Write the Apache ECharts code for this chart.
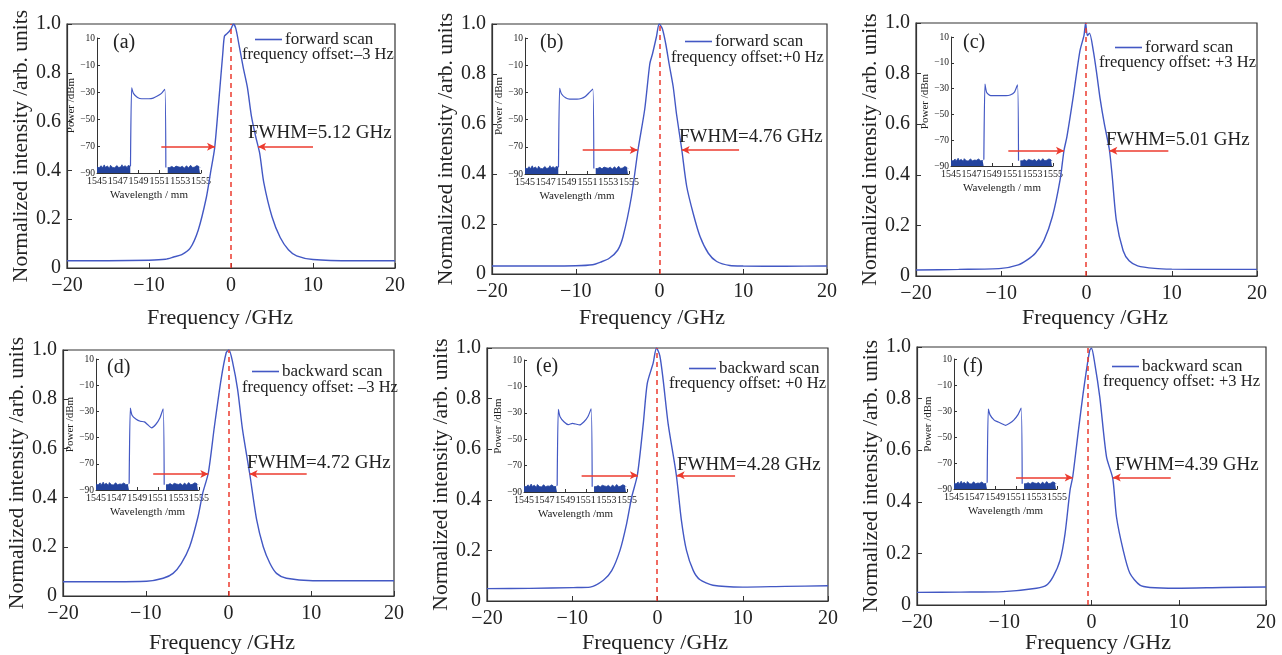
<!DOCTYPE html>
<html><head><meta charset="utf-8">
<script src="https://cdn.jsdelivr.net/npm/echarts@6/dist/echarts.min.js"></script>
<style>html,body{margin:0;padding:0;background:#fff}#c{width:1282px;height:655px}</style>
</head><body><div id="c"></div><script>
// ---------- main spectra (frequency GHz, normalized intensity) ----------
const aFreq = [-20,-15,-10,-8,-7,-6,-5,-4,-3,-2.5,-2,-1.5,-1,-0.8,-0.5,-0.2,0,0.3,0.6,1,1.5,2,2.5,3,3.5,4,5,6,7,8,10,15,20];
const aInt  = [0.03,0.03,0.032,0.036,0.045,0.055,0.08,0.155,0.29,0.39,0.49,0.68,0.88,0.95,0.96,0.97,0.98,1.0,0.98,0.91,0.82,0.74,0.62,0.54,0.47,0.35,0.21,0.125,0.075,0.05,0.035,0.03,0.03];
const bFreq = [-20,-15,-10,-8,-7,-6,-5,-4.35,-3.35,-2.55,-1.76,-1.16,-0.84,-0.36,-0.04,0.35,0.75,1.15,1.63,2.03,2.65,3.25,4.04,4.84,5.83,6.83,8.4,10,15,20];
const bInt  = [0.032,0.032,0.033,0.037,0.048,0.063,0.095,0.15,0.31,0.5,0.66,0.84,0.88,0.95,1.0,0.98,0.92,0.84,0.75,0.64,0.5,0.35,0.24,0.15,0.083,0.05,0.034,0.032,0.031,0.032];
const cFreq = [-20,-15,-10,-8,-7,-6,-5,-4,-3.1,-2.64,-2.3,-1.55,-0.77,-0.3,-0.1,0.1,0.35,0.8,1.2,1.6,2.1,2.68,3.0,3.5,4.3,5,6,8,10,15,20];
const cInt  = [0.024,0.026,0.03,0.044,0.063,0.09,0.14,0.235,0.38,0.496,0.55,0.71,0.89,0.95,1.0,0.95,0.96,0.89,0.8,0.7,0.6,0.5,0.4,0.22,0.1,0.06,0.04,0.03,0.027,0.026,0.026];
const dFreq = [-20,-15,-9.9,-7.9,-6.7,-5.7,-4.7,-3.7,-3.1,-2.44,-1.7,-0.9,-0.27,0.05,0.5,1.1,1.7,2.55,3.4,4.2,5.0,5.8,7.0,10.2,15,20];
const dInt  = [0.058,0.058,0.06,0.072,0.092,0.133,0.2,0.32,0.42,0.5,0.69,0.88,0.99,1.0,0.95,0.84,0.675,0.5,0.31,0.2,0.133,0.092,0.072,0.062,0.062,0.062];
const eFreq = [-20,-15,-9.88,-7.9,-6.35,-5.37,-4.4,-3.62,-3.03,-2.35,-1.67,-1.2,-0.51,-0.12,0.27,0.66,1.25,2.2,2.8,3.4,4.2,4.95,6.5,10,15,20];
const eInt  = [0.049,0.05,0.053,0.055,0.082,0.12,0.2,0.306,0.41,0.5,0.7,0.86,0.94,1.0,0.97,0.875,0.7,0.5,0.32,0.2,0.12,0.085,0.062,0.055,0.058,0.06];
const fFreq = [-20,-15,-10.1,-6.3,-5.15,-4.4,-3.6,-3.03,-2.46,-2.15,-1.5,-0.96,-0.58,-0.2,0,0.38,0.95,1.72,2.44,2.86,3.63,4.4,5.55,6.7,9.75,15,20];
const fInt  = [0.049,0.05,0.052,0.065,0.077,0.11,0.174,0.277,0.445,0.497,0.677,0.82,0.91,0.987,0.995,0.935,0.806,0.574,0.49,0.342,0.213,0.123,0.077,0.068,0.065,0.068,0.07];

// ---------- inset optical spectra (wavelength nm, power dBm) ----------
const noiseLeftWl = [1545.0,1545.1,1545.2,1545.3,1545.4,1545.5,1545.6,1545.7,1545.8,1545.9,1546.0,1546.1,1546.2,1546.3,1546.4,1546.5,1546.6,1546.7,1546.8,1546.9,1547.0,1547.1,1547.2,1547.3,1547.4,1547.5,1547.6,1547.7,1547.8,1547.9,1548.0,1548.1,1548.2];
const noiseLeft   = [-85.5,-84.2,-86.1,-85.0,-84.6,-86.3,-85.2,-84.0,-85.8,-86.0,-84.9,-85.5,-86.4,-84.3,-85.1,-85.9,-84.7,-86.2,-85.3,-84.5,-85.7,-86.0,-84.8,-85.4,-83.9,-85.6,-86.1,-84.6,-85.2,-85.9,-84.4,-85.8,-85.0];
const noiseRightWl = [1551.8,1551.9,1552.0,1552.1,1552.2,1552.3,1552.4,1552.5,1552.6,1552.7,1552.8,1552.9,1553.0,1553.1,1553.2,1553.3,1553.4,1553.5,1553.6,1553.7,1553.8,1553.9,1554.0,1554.1,1554.2,1554.3,1554.4,1554.5,1554.6,1554.7,1554.8,1554.9];
const noiseRight   = [-86.0,-84.8,-85.9,-86.5,-85.1,-84.4,-86.2,-85.6,-84.9,-86.3,-85.4,-84.2,-85.8,-86.1,-85.0,-84.6,-86.4,-85.3,-84.7,-85.9,-86.2,-85.1,-84.3,-85.7,-86.0,-84.9,-85.5,-86.3,-84.5,-85.8,-85.2,-86.0];
const platWl = [1548.22,1548.33,1548.5,1548.9,1549.3,1549.7,1550.0,1550.4,1550.8,1551.2,1551.52,1551.62];
const aPlat = [-85,-27,-31,-34,-35,-35,-35,-34.5,-33,-31,-28,-86];
const bPlat = [-85,-27,-31,-34,-35,-35,-35,-34.5,-33,-30,-27.5,-86];
const cPlat = [-85,-26.5,-33,-35.5,-35.5,-35.5,-35.5,-35.5,-35,-33,-27,-86];
const dPlat = [-85,-27.5,-33,-36,-37.5,-38,-40,-42.5,-40,-35,-28,-86];
const ePlat = [-85,-27.3,-33,-37,-39,-38,-38.5,-39.2,-37,-33,-27,-86];
const fPlat = [-85,-28.5,-33,-37,-38.5,-40,-41,-39.5,-37,-33,-27.7,-86];

// ---------- annotations (data coordinates) ----------
const peakCenters = [0, 0, -0.1, 0, -0.1, -0.4];
const arrowY      = [0.497, 0.496, 0.495, 0.496, 0.497, 0.494];
const arrowLeft   = [[-8.5,-1.95],[-9.17,-2.6],[-9.17,-2.64],[-9.1,-2.44],[-8.9,-2.3],[-8.65,-2.15]];
const arrowRight  = [[10,3.3],[9.5,2.65],[9.6,2.68],[9.45,2.55],[9.1,2.25],[9.08,2.44]];
const panelTags   = ['(a)','(b)','(c)','(d)','(e)','(f)'];
const scanNames   = ['forward scan','forward scan','forward scan','backward scan','backward scan','backward scan'];
const offsetTexts = ['frequency offset:\u20133 Hz','frequency offset:+0 Hz','frequency offset: +3 Hz','frequency offset: \u20133 Hz','frequency offset: +0 Hz','frequency offset: +3 Hz'];
const fwhmTexts   = ['FWHM=5.12 GHz','FWHM=4.76 GHz','FWHM=5.01 GHz','FWHM=4.72 GHz','FWHM=4.28 GHz','FWHM=4.39 GHz'];
const wlNames     = ['Wavelength / mm','Wavelength /mm','Wavelength / mm','Wavelength /mm','Wavelength /mm','Wavelength /mm'];
const powNames    = ['Power /dBm','Power / dBm','Power /dBm','Power /dBm','Power /dBm','Power /dBm'];
const xTitle = 'Frequency /GHz';
const yTitle = 'Normalized intensity /arb. units';

const freqs = [aFreq,bFreq,cFreq,dFreq,eFreq,fFreq];
const ints  = [aInt,bInt,cInt,dInt,eInt,fInt];
const plats = [aPlat,bPlat,cPlat,dPlat,ePlat,fPlat];

// ---------- layout (pixels) ----------
const mainGrids  = [[67,24,328,244],[492,24,335,250],[916,23,341,253],[63,350,331,246],[487,348,341,253],[917,347,349,258]];
const insetGrids = [[97,38,104,135],[525,38,104,136],[951,37,102,129],[96,359,103,131],[524,360,103,132],[954,359,103,130]];
const legendPos  = [[255,40],[685,42],[1115,48],[252,372],[689,369],[1112,367]];
const offsetPos  = [[242,55],[671,58],[1099,63],[242,388],[669,384],[1103,382]];
const fwhmPos    = [[248,133],[679,137],[1106,140],[247,463],[677,465],[1115,465]];
const tagPos     = [[113,43],[540,43],[963,43],[107,368],[536,367],[963,367]];
const xTitlePos  = [[220,318],[652,318],[1095,318],[222,643],[655,643],[1098,643]];

const FONT = "'Liberation Serif','DejaVu Serif','Times New Roman',serif";
const INK = '#222';
const CURVE = '#4358c4';
const NOISE = '#23439e';
const RED = '#ec3b2f';
const minus = v => (v < 0 ? '\u2212' + Math.abs(v) : String(v));

const grid = [], xAxis = [], yAxis = [], series = [], legend = [], graphic = [];

for (let i = 0; i < 6; i++) {
  const g = mainGrids[i], ig = insetGrids[i];
  grid.push({left:g[0], top:g[1], width:g[2], height:g[3], show:true, borderColor:'#333', borderWidth:1.2, outerBoundsMode:'none', containLabel:false});
  grid.push({left:ig[0], top:ig[1], width:ig[2], height:ig[3], show:false, outerBoundsMode:'none', containLabel:false});
  const mi = 2*i, ii = 2*i+1;
  xAxis.push({gridIndex:mi, type:'value', min:-20, max:20, interval:10,
    axisLine:{onZero:false, lineStyle:{color:'#333', width:1.2}}, axisTick:{inside:true, length:5, lineStyle:{color:'#333'}},
    splitLine:{show:false},
    axisLabel:{formatter:minus, fontFamily:FONT, fontSize:20, color:INK, margin:8}});
  yAxis.push({gridIndex:mi, type:'value', min:0, max:1, interval:0.2,
    axisLine:{onZero:false, lineStyle:{color:'#333', width:1.2}}, axisTick:{inside:true, length:5, lineStyle:{color:'#333'}},
    splitLine:{show:false},
    axisLabel:{formatter:v => v === 0 ? '0' : v.toFixed(1), fontFamily:FONT, fontSize:20, color:INK, margin:6},
    name:yTitle, nameLocation:'middle', nameRotate:90, nameGap:35,
    nameTextStyle:{fontFamily:FONT, fontSize:21.5, color:INK}});
  xAxis.push({gridIndex:ii, type:'value', min:1545, max:1555, interval:2,
    axisLine:{onZero:false, lineStyle:{color:'#333', width:1}}, axisTick:{inside:true, length:3, lineStyle:{color:'#333'}},
    splitLine:{show:false},
    axisLabel:{formatter:v => String(v), showMinLabel:true, showMaxLabel:true, hideOverlap:false,
      fontFamily:FONT, fontSize:10, color:INK, margin:3},
    name:wlNames[i], nameLocation:'middle', nameGap:17, nameTextStyle:{fontFamily:FONT, fontSize:11, color:INK}});
  yAxis.push({gridIndex:ii, type:'value', min:-90, max:10, interval:20,
    axisLine:{onZero:false, lineStyle:{color:'#333', width:1}}, axisTick:{inside:true, length:3, lineStyle:{color:'#333'}},
    splitLine:{show:false},
    axisLabel:{formatter:minus, fontFamily:FONT, fontSize:9.5, color:INK, margin:2},
    name:powNames[i], nameLocation:'middle', nameRotate:90, nameGap:17, nameTextStyle:{fontFamily:FONT, fontSize:11, color:INK}});

  const f = freqs[i], y = ints[i];
  const c0 = peakCenters[i], ay = arrowY[i];
  series.push({type:'line', name:scanNames[i], xAxisIndex:mi, yAxisIndex:mi,
    data:f.map((x, k) => [x, y[k]]), symbol:'none', smooth:0.25,
    lineStyle:{color:CURVE, width:1.4}, itemStyle:{color:CURVE}, z:3,
    markLine:{silent:true, animation:false, label:{show:false}, symbol:['none','none'],
      data:[
        [{coord:[c0,0], symbol:'none', lineStyle:{color:RED, type:[5,4], width:1.5}}, {coord:[c0,1], symbol:'none'}],
        [{coord:[arrowLeft[i][0],ay], symbol:'none', lineStyle:{color:RED, type:'solid', width:1.5}}, {coord:[arrowLeft[i][1],ay], symbol:'arrow', symbolSize:[6,8]}],
        [{coord:[arrowRight[i][0],ay], symbol:'none', lineStyle:{color:RED, type:'solid', width:1.5}}, {coord:[arrowRight[i][1],ay], symbol:'arrow', symbolSize:[6,8]}]
      ]}});
  series.push({type:'line', xAxisIndex:ii, yAxisIndex:ii, data:noiseLeftWl.map((x,k)=>[x,noiseLeft[k]]),
    symbol:'none', lineStyle:{color:NOISE, width:0.8}, areaStyle:{color:NOISE, opacity:1, origin:'start'}, z:4});
  series.push({type:'line', xAxisIndex:ii, yAxisIndex:ii, data:noiseRightWl.map((x,k)=>[x,noiseRight[k]]),
    symbol:'none', lineStyle:{color:NOISE, width:0.8}, areaStyle:{color:NOISE, opacity:1, origin:'start'}, z:4});
  series.push({type:'line', xAxisIndex:ii, yAxisIndex:ii, data:platWl.map((x,k)=>[x,plats[i][k]]),
    symbol:'none', smooth:0.2, lineStyle:{color:CURVE, width:1.2}, z:4});

  legend.push({data:[scanNames[i]], left:legendPos[i][0], top:legendPos[i][1]-9, itemWidth:27, itemHeight:1.6,
    icon:'rect', selectedMode:false, itemGap:0, padding:0,
    itemStyle:{color:CURVE, borderWidth:0},
    textStyle:{fontFamily:FONT, fontSize:17, color:INK, padding:[0,0,0,-2]}});

  graphic.push({type:'text', x:offsetPos[i][0], y:offsetPos[i][1],
    style:{text:offsetTexts[i], font:'16.5px ' + FONT, fill:INK, verticalAlign:'middle', textVerticalAlign:'middle'}, z:10});
  graphic.push({type:'text', x:fwhmPos[i][0], y:fwhmPos[i][1],
    style:{text:fwhmTexts[i], font:'19px ' + FONT, fill:INK, verticalAlign:'middle', textVerticalAlign:'middle'}, z:10});
  graphic.push({type:'text', x:tagPos[i][0], y:tagPos[i][1],
    style:{text:panelTags[i], font:'20px ' + FONT, fill:INK, verticalAlign:'middle', textVerticalAlign:'middle'}, z:10});
  graphic.push({type:'text', x:xTitlePos[i][0], y:xTitlePos[i][1],
    style:{text:xTitle, font:'22px ' + FONT, fill:INK, align:'center', textAlign:'center', verticalAlign:'middle', textVerticalAlign:'middle'}, z:10});
}

const chart = echarts.init(document.getElementById('c'), null, {renderer:'canvas'});
chart.setOption({animation:false, backgroundColor:'#fff', grid, xAxis, yAxis, series, legend, graphic});
</script></body></html>
